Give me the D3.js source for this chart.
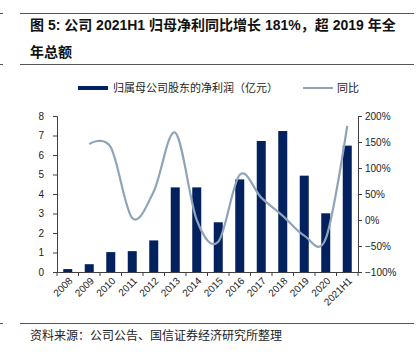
<!DOCTYPE html>
<html><head><meta charset="utf-8">
<script src="https://cdn.jsdelivr.net/npm/d3@7/dist/d3.min.js"></script>
<style>
html,body{margin:0;padding:0;background:#fff;}
svg{display:block;font-family:"Liberation Sans",Arial,"Noto Sans CJK SC",sans-serif;}
</style></head>
<body><svg id="c" width="419" height="356"></svg>
<script>
const categories = ["2008","2009","2010","2011","2012","2013","2014","2015","2016","2017","2018","2019","2020","2021H1"];
const profit = [0.15,0.4,1.02,1.07,1.62,4.34,4.34,2.55,4.75,6.72,7.23,4.94,3.01,6.48];
const yoy = [null,146,140,4,55,168,0,-42,87,43,8,-30,-36,181];
const leftTicks = [0,1,2,3,4,5,6,7,8];
const rightTicks = [-100,-50,0,50,100,150,200];
const titleLine1 = "图 5: 公司 2021H1 归母净利同比增长 181%，超 2019 年全";
const titleLine2 = "年总额";
const legendBar = "归属母公司股东的净利润（亿元）";
const legendLine = "同比";
const sourceText = "资料来源：公司公告、国信证券经济研究所整理";

const svg = d3.select("#c");
const L = 57, R = 358, T = 116, B = 272;
const x = d3.scaleBand().domain(categories).range([L, R]).paddingInner(0).paddingOuter(0);
const yL = d3.scaleLinear().domain([0, 8]).range([B, T]);
const yR = d3.scaleLinear().domain([-100, 200]).range([B, T]);
const barColor = "#02215e", lineColor = "#8fa4b9", axisColor = "#404040", ruleColor = "#555";

// rules
[13.5, 64.5, 323.5].forEach(y => {
  svg.append("line").attr("x1", 20).attr("x2", 414).attr("y1", y).attr("y2", y).attr("stroke", ruleColor).attr("stroke-width", 1);
  svg.append("line").attr("x1", 0).attr("x2", 3).attr("y1", y).attr("y2", y).attr("stroke", ruleColor).attr("stroke-width", 1);
});

// title
const tStyle = t => t.attr("font-size", 14).attr("font-weight", "bold").attr("fill", "#111");
tStyle(svg.append("text").attr("x", 30).attr("y", 30).text(titleLine1));
tStyle(svg.append("text").attr("x", 30).attr("y", 57).text(titleLine2));

// legend
svg.append("rect").attr("x", 78).attr("y", 86).attr("width", 30).attr("height", 4).attr("fill", barColor);
svg.append("text").attr("x", 113).attr("y", 92).attr("font-size", 11).attr("fill", "#222").text(legendBar);
svg.append("line").attr("x1", 303).attr("x2", 333).attr("y1", 88).attr("y2", 88).attr("stroke", lineColor).attr("stroke-width", 2);
svg.append("text").attr("x", 337).attr("y", 92).attr("font-size", 11).attr("fill", "#222").text(legendLine);

// bars
const bw = 9;
svg.append("g").selectAll("rect").data(categories).join("rect")
  .attr("x", (d) => x(d) + x.bandwidth() / 2 - bw / 2)
  .attr("y", (d, i) => yL(profit[i]))
  .attr("width", bw)
  .attr("height", (d, i) => B - yL(profit[i]))
  .attr("fill", barColor);

// line
const pts = categories.map((c, i) => [x(c) + x.bandwidth() / 2, yoy[i]]).filter(p => p[1] !== null);
svg.append("path")
  .attr("d", d3.line().x(p => p[0]).y(p => yR(p[1])).curve(d3.curveCardinal.tension(0))(pts))
  .attr("fill", "none").attr("stroke", lineColor).attr("stroke-width", 2.2);

// left axis
const gl = svg.append("g").attr("transform", `translate(${L},0)`)
  .call(d3.axisLeft(yL).tickValues(leftTicks).tickSize(4).tickPadding(9).tickFormat(d3.format("d")));
// right axis
const gr = svg.append("g").attr("transform", `translate(${R},0)`)
  .call(d3.axisRight(yR).tickValues(rightTicks).tickSize(4).tickPadding(3).tickFormat(d => (d < 0 ? "−" + (-d) : d) + "%"));
// bottom axis
const gb = svg.append("g").attr("transform", `translate(0,${B})`)
  .call(d3.axisBottom(x).tickSize(0).tickFormat(""));
// boundary ticks
const bounds = categories.map(c => x(c)).concat([R]);
svg.append("g").selectAll("line").data(bounds).join("line")
  .attr("x1", d => d).attr("x2", d => d).attr("y1", B).attr("y2", B + 4)
  .attr("stroke", axisColor);
// rotated labels
svg.append("g").selectAll("text").data(categories).join("text")
  .attr("transform", d => `translate(${x(d) + x.bandwidth() / 2 + 3},${B + 7}) rotate(-45)`)
  .attr("text-anchor", "end").attr("dy", "0.35em")
  .attr("font-size", 10).attr("fill", "#222").text(d => d);

[gl, gr, gb].forEach(g => {
  g.select(".domain").attr("stroke", axisColor);
  g.selectAll(".tick line").attr("stroke", axisColor);
  g.selectAll(".tick text").attr("font-size", 10).attr("fill", "#222").attr("font-family", "'Liberation Sans',Arial,sans-serif");
});

// source
svg.append("text").attr("x", 30).attr("y", 340).attr("font-size", 12).attr("fill", "#222").text(sourceText);
</script></body></html>
